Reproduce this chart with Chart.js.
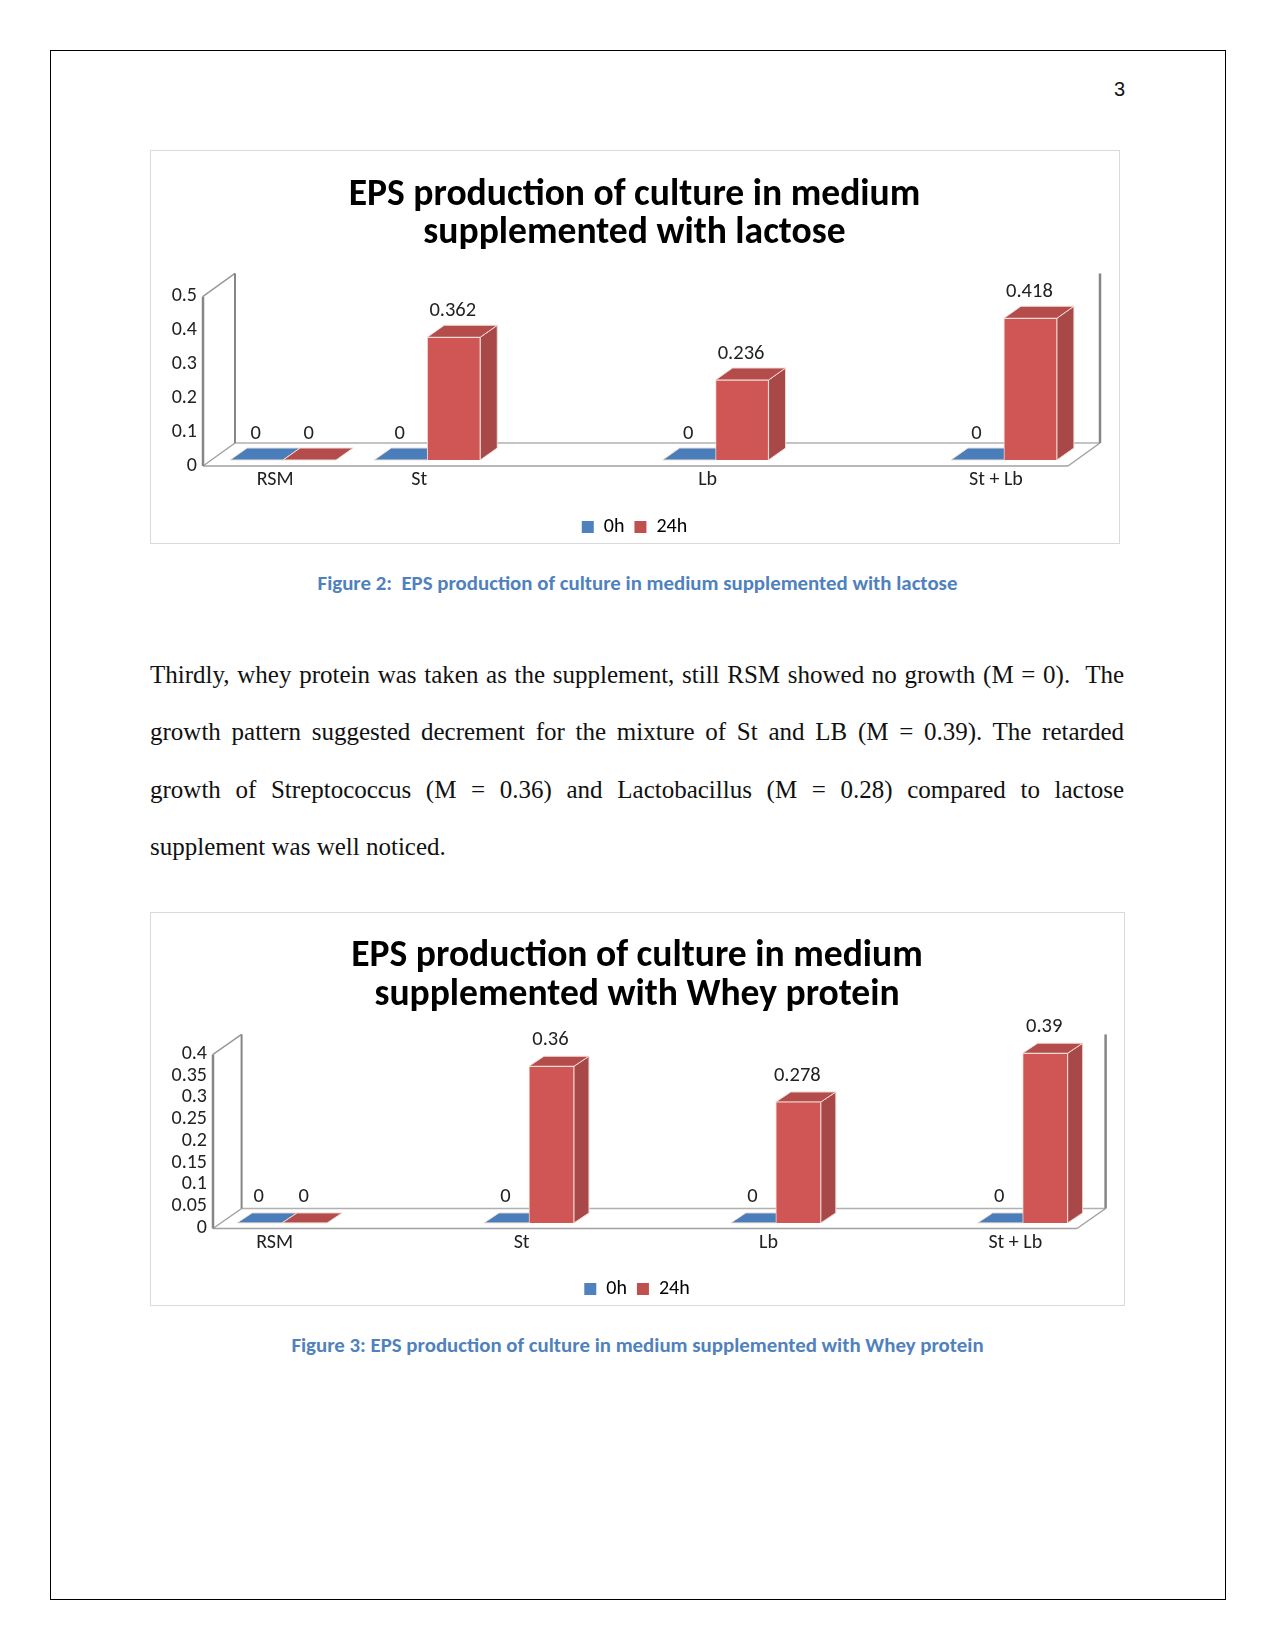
<!DOCTYPE html>
<html>
<head>
<meta charset="utf-8">
<title>EPS production</title>
<script src="https://cdn.jsdelivr.net/npm/chart.js@4"></script>
<style>
  body { margin: 0; background: #fff; }
  #page { position: relative; width: 1275px; height: 1650px; background: #fff; overflow: hidden; }
  #frame { position: absolute; left: 50px; top: 50px; width: 1174px; height: 1548px; border: 1.5px solid #000; }
  .box { position: absolute; border: 1.5px solid #d9d9d9; box-sizing: border-box; background: #fff; }
  .box canvas { position: absolute; left: -1.5px; top: -1.5px; }
  .pnum { position: absolute; left: 1101px; top: 74px; width: 24px; text-align: right;
          font: 20px "Liberation Sans", sans-serif; color: #111; line-height: 30px; }
  .caption { position: absolute; left: 0; width: 1275px; text-align: center; white-space: pre;
             font: bold 20.85px Carlito, Lato, sans-serif; color: #4f81bd; line-height: 30px; }
  .line { position: absolute; left: 150px; width: 974px; font: 25px "Liberation Serif", serif; color: #111;
          line-height: 30px; white-space: normal; text-align: justify; text-align-last: justify; }
  .line.last { text-align-last: left; }
</style>
</head>
<body>
<div id="page">
  <div id="frame"></div>
  <div class="pnum">3</div>

  <div class="box" style="left:150px;top:150px;width:970px;height:394px"><canvas id="lactoseChart" width="969" height="394"></canvas></div>
  <div class="caption" style="top:568px">Figure 2:  EPS production of culture in medium supplemented with lactose</div>

  <div class="line" style="top:660px">Thirdly, whey protein was taken as the supplement, still RSM showed no growth (M = 0).&nbsp; The</div>
  <div class="line" style="top:717px">growth pattern suggested decrement for the mixture of St and LB (M = 0.39). The retarded</div>
  <div class="line" style="top:775px">growth of Streptococcus (M = 0.36) and Lactobacillus (M = 0.28) compared to lactose</div>
  <div class="line last" style="top:832px">supplement was well noticed.</div>

  <div class="box" style="left:150px;top:912px;width:975px;height:394px"><canvas id="wheyChart" width="974" height="394"></canvas></div>
  <div class="caption" style="top:1330px">Figure 3: EPS production of culture in medium supplemented with Whey protein</div>
</div>

<script>
const seriesNames = ["0h", "24h"];

const lactoseCategories = ["RSM", "St", "", "Lb", "", "St + Lb"];
const lactose0h = [0, 0, null, 0, null, 0];
const lactose24h = [0, 0.362, null, 0.236, null, 0.418];
const lactoseTicks = [0, 0.1, 0.2, 0.3, 0.4, 0.5];
const lactoseTitle = ["EPS production of culture in medium", "supplemented with lactose"];

const wheyCategories = ["RSM", "St", "Lb", "St + Lb"];
const whey0h = [0, 0, 0, 0];
const whey24h = [0, 0.36, 0.278, 0.39];
const wheyTicks = [0, 0.05, 0.1, 0.15, 0.2, 0.25, 0.3, 0.35, 0.4];
const wheyTitle = ["EPS production of culture in medium", "supplemented with Whey protein"];

const fontFamily = "Carlito, Lato, sans-serif";

function toPoints(values) {
    return values.map((y, x) => ({ x, y })).filter(p => p.y !== null);
}

function face(ctx, pts, fill) {
    ctx.beginPath();
    pts.forEach((p, i) => i ? ctx.lineTo(p[0], p[1]) : ctx.moveTo(p[0], p[1]));
    ctx.closePath();
    ctx.fillStyle = fill;
    ctx.fill();
    ctx.strokeStyle = "#efdcd4";
    ctx.lineWidth = 1;
    ctx.stroke();
}

function line(ctx, x1, y1, x2, y2, color, width) {
    ctx.beginPath();
    ctx.moveTo(x1, y1);
    ctx.lineTo(x2, y2);
    ctx.strokeStyle = color;
    ctx.lineWidth = width;
    ctx.stroke();
}

// fake 3D: walls and floor behind, bar tops and sides from the bar elements
const fake3d = {
    id: "fake3d",
    beforeDatasetsDraw(chart, args, opts) {
        const { ctx, chartArea: a } = chart;
        const [wx, wy] = opts.wall;
        const [sx, sy] = opts.shift;
        const [dx, dy] = opts.depth;

        line(ctx, a.left + wx, a.bottom + wy, a.right + wx, a.bottom + wy, "#b0b0b0", 1.5);
        line(ctx, a.left, a.bottom, a.right, a.bottom, "#a0a0a0", 1.5);
        line(ctx, a.right, a.bottom, a.right + wx, a.bottom + wy, "#a0a0a0", 1.5);
        line(ctx, a.left, a.bottom, a.left + wx, a.bottom + wy, "#a0a0a0", 1.5);
        line(ctx, a.left, a.top, a.left + wx, a.top + wy, "#989898", 1.5);
        line(ctx, a.left, a.top, a.left, a.bottom, "#868686", 2.5);
        line(ctx, a.left + wx, a.top + wy, a.left + wx, a.bottom + wy, "#868686", 2);
        line(ctx, a.right + wx, a.top + wy, a.right + wx, a.bottom + wy, "#868686", 2.5);

        ctx.save();
        ctx.translate(sx, sy);
        chart.data.datasets.forEach((ds, i) => {
            chart.getDatasetMeta(i).data.forEach(el => {
                const l = el.x - el.width / 2;
                const r = el.x + el.width / 2;
                if (el.base > el.y) {
                    face(ctx, [[r, el.y], [r, el.base], [r + dx, el.base + dy], [r + dx, el.y + dy]], ds.sideColor);
                }
                face(ctx, [[l, el.y], [r, el.y], [r + dx, el.y + dy], [l + dx, el.y + dy]], ds.topColor);
            });
        });
    },
    afterDatasetsDraw(chart, args, opts) {
        const { ctx } = chart;
        const [sx, sy] = opts.shift;
        ctx.restore();
        ctx.save();
        ctx.font = opts.labelFont;
        ctx.fillStyle = "#222";
        ctx.textAlign = "center";
        ctx.textBaseline = "middle";
        chart.data.datasets.forEach((ds, i) => {
            chart.getDatasetMeta(i).data.forEach((el, j) => {
                ctx.fillText(String(ds.data[j].y), el.x + sx - 1, el.y + sy - 26);
            });
        });
        ctx.restore();
    }
};

function makeChart(id, cfg) {
    const m = cfg.margins;
    return new Chart(document.getElementById(id), {
        type: "bar",
        data: {
            datasets: [
                {
                    label: seriesNames[0],
                    data: toPoints(cfg.first),
                    xAxisID: "x",
                    yAxisID: "y",
                    backgroundColor: "#4a7ebb",
                    topColor: "#4a7ebb",
                    sideColor: "#3f6ca3",
                    legendColor: "#4f81bd",
                    borderColor: "#efdcd4",
                    borderWidth: 1,
                    barThickness: cfg.barWidth,
                    clip: false
                },
                {
                    label: seriesNames[1],
                    data: toPoints(cfg.second),
                    xAxisID: "x",
                    yAxisID: "y",
                    backgroundColor: "#d05656",
                    topColor: "#b44c4c",
                    sideColor: "#a84848",
                    legendColor: "#c0504d",
                    borderColor: "#efdcd4",
                    borderWidth: 1,
                    barThickness: cfg.barWidth,
                    clip: false
                }
            ]
        },
        options: {
            responsive: false,
            animation: false,
            devicePixelRatio: 1,
            layout: { padding: { bottom: -3 } },
            plugins: {
                title: {
                    display: true,
                    text: cfg.title,
                    color: "#000",
                    font: { family: fontFamily, size: 37.6, weight: "bold", lineHeight: 1.03 },
                    padding: { top: cfg.titleTop, bottom: cfg.titleBottom }
                },
                legend: {
                    position: "bottom",
                    labels: {
                        boxWidth: 12,
                        boxHeight: 12,
                        padding: 10,
                        color: "#222",
                        font: { family: fontFamily, size: 20, lineHeight: 0.75 },
                        generateLabels: chart => chart.data.datasets.map((ds, i) => ({
                            text: ds.label,
                            fillStyle: ds.legendColor,
                            strokeStyle: ds.legendColor,
                            lineWidth: 0,
                            datasetIndex: i
                        }))
                    }
                },
                tooltip: { enabled: false },
                fake3d: {
                    wall: cfg.wall,
                    shift: cfg.shift,
                    depth: cfg.depth,
                    labelFont: "20.5px " + fontFamily
                }
            },
            scales: {
                x: {
                    type: "linear",
                    offset: false,
                    min: cfg.xMin,
                    max: cfg.xMax,
                    afterBuildTicks: s => { s.ticks = cfg.categories.map((c, i) => ({ value: i })); },
                    afterFit: s => { s.height = m.bottom; },
                    grid: { display: false, drawTicks: false },
                    border: { display: false },
                    ticks: {
                        autoSkip: false,
                        maxRotation: 0,
                        padding: 2,
                        color: "#222",
                        font: { family: fontFamily, size: 20 },
                        callback: v => cfg.categories[v]
                    }
                },
                y: {
                    min: 0,
                    max: cfg.yTicks[cfg.yTicks.length - 1],
                    afterBuildTicks: s => { s.ticks = cfg.yTicks.map(value => ({ value })); },
                    afterFit: s => { s.width = m.left; },
                    grid: { display: false, drawTicks: false },
                    border: { display: false },
                    ticks: {
                        autoSkip: false,
                        padding: 6,
                        labelOffset: -0.5,
                        color: "#222",
                        font: { family: fontFamily, size: 20 },
                        callback: v => String(v)
                    }
                },
                // empty axis, only reserves the right margin so the title stays centred
                rightMargin: {
                    axis: "y",
                    position: "right",
                    min: 0,
                    max: 1,
                    afterFit: s => { s.width = m.right; },
                    grid: { display: false, drawTicks: false },
                    border: { display: false },
                    ticks: { display: false }
                }
            }
        },
        plugins: [fake3d]
    });
}

makeChart("lactoseChart", {
    title: lactoseTitle,
    categories: lactoseCategories,
    first: lactose0h,
    second: lactose24h,
    yTicks: lactoseTicks,
    xMin: -0.5,
    xMax: 5.5,
    margins: { left: 53, right: 51, bottom: 41 },
    titleTop: 26,
    titleBottom: 43,
    barWidth: 53,
    wall: [32, -23],
    shift: [8, -6],
    depth: [17, -12]
});

makeChart("wheyChart", {
    title: wheyTitle,
    categories: wheyCategories,
    first: whey0h,
    second: whey24h,
    yTicks: wheyTicks,
    xMin: -0.25,
    xMax: 3.25,
    margins: { left: 63, right: 47, bottom: 40.5 },
    titleTop: 25.5,
    titleBottom: 39.5,
    barWidth: 45,
    wall: [28.6, -20],
    shift: [7.4, -5.6],
    depth: [15, -10]
});
</script>
</body>
</html>
